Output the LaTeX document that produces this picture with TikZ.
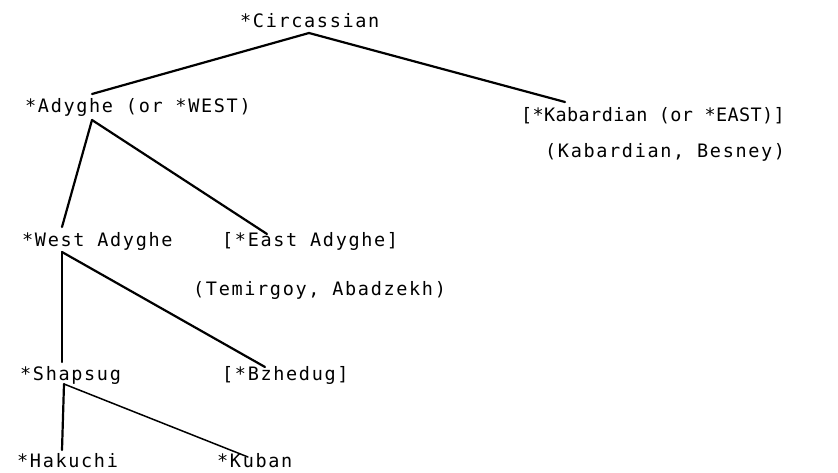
\documentclass[tikz,border=0pt]{standalone}
\usepackage{fontspec}
\newfontfamily\typew[LetterSpace=9]{DejaVu Sans Mono}
\newfontfamily\typewnarrow[LetterSpace=2]{DejaVu Sans Mono}
\usetikzlibrary{calc, positioning}
\tikzset{
    lang/.style={anchor=base west, inner sep=0pt, font=\typew\fontsize{18.5pt}{22pt}\selectfont},
    langnarrow/.style={lang, font=\typewnarrow\fontsize{18.5pt}{22pt}\selectfont},
    branch/.style={line width=2.2pt, line cap=round},
    thinbranch/.style={line width=1.5pt, line cap=round}
}
\begin{document}
\begin{tikzpicture}[x=1pt, y=1pt]
        \useasboundingbox (0,0) rectangle (838,-473);

        % Proto-language
        \node[lang] (Circassian) at (240,-28) {*Circassian};

        % First split
        \node[lang] (Adyghe) at (25,-113) {*Adyghe (or *WEST)};
        \node[langnarrow] (Kabardian) at (521,-122) {[*Kabardian (or *EAST)]};
        \node[lang] (KabList) at (545,-158) {(Kabardian, Besney)};

        % Adyghe split
        \node[lang] (WestAdyghe) at (22,-247) {*West Adyghe};
        \node[lang] (EastAdyghe) at (222,-247) {[*East Adyghe]};
        \node[lang] (EastList) at (193,-295) {(Temirgoy, Abadzekh)};

        % West Adyghe split
        \node[lang] (Shapsug) at (20,-380) {*Shapsug};
        \node[lang] (Bzhedug) at (222,-380) {[*Bzhedug]};

        % Shapsug split
        \node[lang] (Hakuchi) at (17,-467) {*Hakuchi};
        \node[lang] (Kuban) at (217,-467) {*Kuban};

        % Branches
        \draw[branch] ([xshift=69pt,yshift=-5pt]Circassian.base west) -- ([xshift=67pt,yshift=19pt]Adyghe.base west);
        \draw[branch] ([xshift=69pt,yshift=-5pt]Circassian.base west) -- ([xshift=44pt,yshift=20pt]Kabardian.base west);
        \draw[branch] ([xshift=67pt,yshift=-7pt]Adyghe.base west) -- ([xshift=40pt,yshift=20pt]WestAdyghe.base west);
        \draw[branch] ([xshift=67pt,yshift=-7pt]Adyghe.base west) -- ([xshift=45pt,yshift=13pt]EastAdyghe.base west);
        \draw[branch] ([xshift=40pt,yshift=-5pt]WestAdyghe.base west) -- ([xshift=42pt,yshift=18pt]Shapsug.base west);
        \draw[branch] ([xshift=40pt,yshift=-5pt]WestAdyghe.base west) -- ([xshift=43pt,yshift=13pt]Bzhedug.base west);
        \draw[branch] ([xshift=44pt,yshift=-4pt]Shapsug.base west) -- ([xshift=45pt,yshift=17pt]Hakuchi.base west);
        \draw[thinbranch] ([xshift=44pt,yshift=-4pt]Shapsug.base west) -- ([xshift=31pt,yshift=10pt]Kuban.base west);
    \end{tikzpicture}
\end{document}
